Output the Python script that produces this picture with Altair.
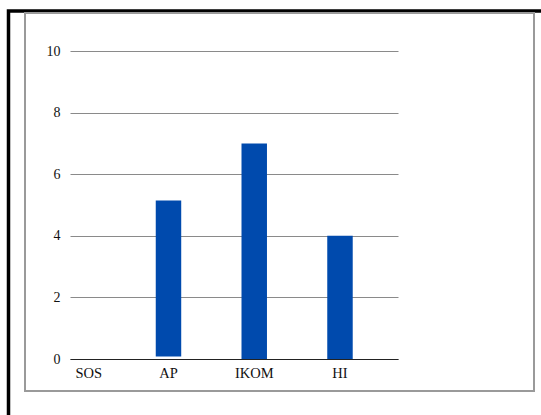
import altair as alt
import pandas as pd

categories = ["SOS", "AP", "IKOM", "HI"]
values = [0.0, 5.15, 7.0, 4.0]
starts = [0.0, 0.08, 0.0, 0.0]
y_ticks = [0, 2, 4, 6, 8, 10]

df = pd.DataFrame({"cat": categories, "val": values, "start": starts})

FONT = "Liberation Serif"

x_enc = alt.X(
    "cat:N",
    sort=categories,
    scale=alt.Scale(paddingInner=0.703, paddingOuter=0.264, align=0),
    axis=alt.Axis(title=None, labelAngle=0, ticks=False, domain=True,
                  domainColor="#222222", domainWidth=1, labelFont=FONT,
                  labelFontSize=14.5, labelColor="#111111", labelPadding=7,
                  labelOffset={"condition": {"test": "datum.value === 'SOS'", "value": 6},
                               "value": 0},
                  grid=False),
)

bars = alt.Chart(df).mark_bar(color="#004AAD").encode(
    x=x_enc,
    y=alt.Y("val:Q", scale=alt.Scale(domain=[0, 10], nice=False),
            axis=alt.Axis(title=None, values=y_ticks, grid=True,
                          gridColor="#8a8a8a", gridWidth=1, domain=False,
                          ticks=False, labelFont=FONT, labelFontSize=14,
                          labelColor="#111111", labelPadding=10)),
    y2="start:Q",
)

frame_data = alt.Data(values=[{"k": 1}])

outer = alt.Chart(frame_data).mark_rect(
    fillOpacity=0, stroke="#000000", strokeWidth=3.5
).encode(x=alt.value(-61.5), x2=alt.value(520), y=alt.value(-40), y2=alt.value(420))

inner = alt.Chart(frame_data).mark_rect(
    fillOpacity=0, stroke="#9a9a9a", strokeWidth=2
).encode(x=alt.value(-45), x2=alt.value(464), y=alt.value(-38), y2=alt.value(340))

chart = alt.layer(outer, inner, bars).properties(
    width=328,
    height=308,
    autosize=alt.AutoSizeParams(type="none"),
    padding={"left": 70, "top": 51, "right": 143, "bottom": 56},
    background="white",
).configure_view(stroke=None)

chart.save("out.html", embed_options={"renderer": "svg", "actions": False})
